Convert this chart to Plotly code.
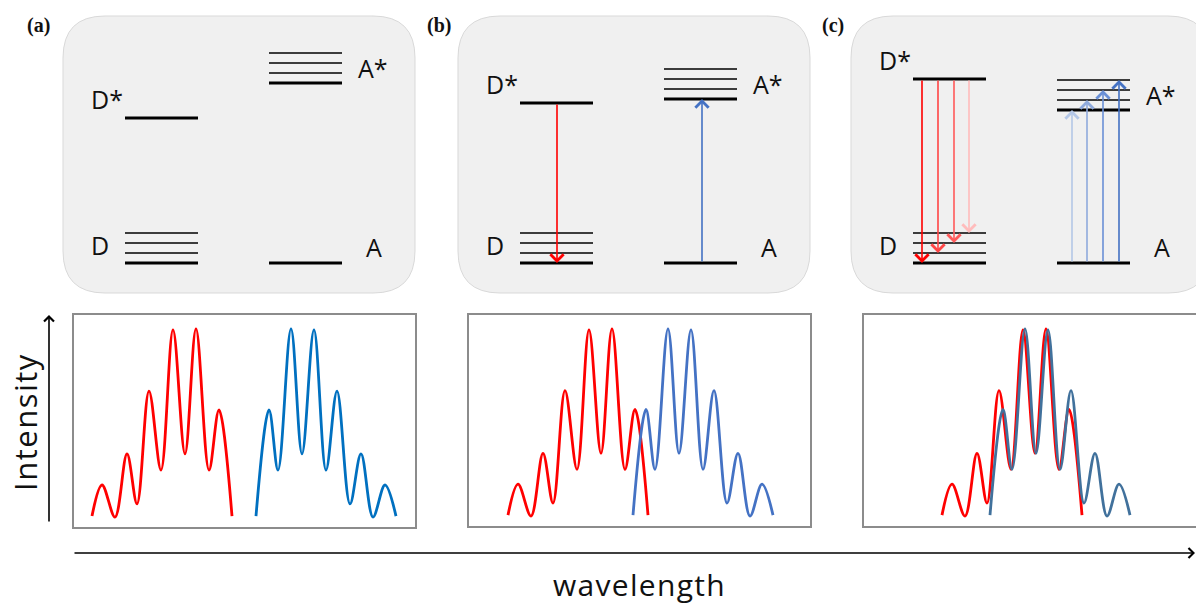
import plotly.graph_objects as go

W, H = 1196, 608

# ---- spectra: extrema of the line shapes (relative wavelength, normalised intensity)
donor_wl = [0, 10, 23, 35, 45, 57, 69, 81, 93, 104, 117, 127, 140]
donor_int = [0.06, 0.216, 0.055, 0.372, 0.121, 0.688, 0.291, 0.995, 0.372, 1.0, 0.291, 0.593, 0.06]
acceptor_wl = [0, 13, 22, 35, 46, 58, 70, 81, 94, 105, 117, 129, 140]
acceptor_int = [0.06, 0.593, 0.291, 1.0, 0.372, 0.995, 0.291, 0.688, 0.121, 0.372, 0.055, 0.216, 0.06]

panel_names = ["(a)", "(b)", "(c)"]
donor_onset = [19, 40, 79]          # start of donor emission in each panel
acceptor_onset = [183, 165, 127]    # start of acceptor absorption in each panel

# ---- energy levels (arbitrary energy units)
vib_levels = [0, 1, 2, 3]
donor_excited = [14.5, 16.0, 18.4]
acceptor_excited_base = [18.0, 16.4, 15.3]
acceptor_ground = [0, 0, 0]

# transitions drawn in panel (c): target vibrational level index
emission_targets = [0, 1, 2, 3]
absorption_targets = [0, 1, 2, 3]

# ---- styling / layout
RED = "#ff0000"
BLUE = ["#0070c0", "#4472c4", "#41719c"]
EMIT_COLORS = ["#ff0000", "#ff4545", "#ff5a5a", "#ffbcbc"]
ABS_COLORS = ["#b4c7e7", "#8faadc", "#6a90d6", "#4472c4"]
FONT = "Open Sans"

top_boxes = [(63, 16, 415, 293), (458, 16, 810, 293), (851, 16, 1210, 293)]
bottom_boxes = [(73, 314, 416, 528), (468, 314, 811, 527), (863, 314, 1210, 527)]
label_pos = [(38, 25), (439, 25), (833, 25)]
D_COL = (62, 135)
A_COL = (206, 279)
E_RANGE = (-3.0, 24.7)
I_RANGE = (0.0, 1.075)
b_arrow_x = (99, 244)
c_emit_x = [71, 87, 103, 118]
c_abs_x = [221, 236, 252, 268]


def fx(px):
    return px / W


def fy(py):
    return 1 - py / H


def rounded_rect(x0, y0, x1, y1, r):
    X = lambda v: f"{fx(v):.5f}"
    Y = lambda v: f"{fy(v):.5f}"
    return " ".join([
        f"M{X(x0 + r)},{Y(y0)}",
        f"L{X(x1 - r)},{Y(y0)}",
        f"Q{X(x1)},{Y(y0)} {X(x1)},{Y(y0 + r)}",
        f"L{X(x1)},{Y(y1 - r)}",
        f"Q{X(x1)},{Y(y1)} {X(x1 - r)},{Y(y1)}",
        f"L{X(x0 + r)},{Y(y1)}",
        f"Q{X(x0)},{Y(y1)} {X(x0)},{Y(y1 - r)}",
        f"L{X(x0)},{Y(y0 + r)}",
        f"Q{X(x0)},{Y(y0)} {X(x0 + r)},{Y(y0)}Z",
    ])


fig = go.Figure()
shapes = []
annotations = []
layout_axes = {}

ax_id = 1
for p in range(3):
    # ---------- energy level diagram ----------
    bx0, by0, bx1, by1 = top_boxes[p]
    shapes.append(dict(type="path", path=rounded_rect(bx0, by0, bx1, by1, 42),
                       xref="paper", yref="paper", fillcolor="#f0f0f0",
                       line=dict(color="#d9d9d9", width=1), layer="below"))
    xa, ya = f"x{ax_id}", f"y{ax_id}"
    sfx = "" if ax_id == 1 else str(ax_id)
    dom_x1 = min(bx1, W)
    layout_axes[f"xaxis{sfx}"] = dict(domain=[fx(bx0), fx(dom_x1)], range=[0, dom_x1 - bx0],
                                      visible=False, anchor=ya)
    layout_axes[f"yaxis{sfx}"] = dict(domain=[fy(by1), fy(by0)], range=list(E_RANGE),
                                      visible=False, anchor=xa)

    def level(x_col, e, width, color="black"):
        fig.add_trace(go.Scatter(x=list(x_col), y=[e, e], mode="lines", xaxis=xa, yaxis=ya,
                                 line=dict(color=color, width=width), hoverinfo="skip",
                                 showlegend=False))

    # donor ground manifold and excited level
    for v in vib_levels:
        level(D_COL, vib_levels[0] + v, 3 if v == 0 else 1.3)
    level(D_COL, donor_excited[p], 3)
    # acceptor ground and excited manifold
    level(A_COL, acceptor_ground[p], 3)
    for v in vib_levels:
        level(A_COL, acceptor_excited_base[p] + v, 3 if v == 0 else 1.3)

    lab_font = dict(family=FONT, size=25, color="#111111")
    a_star_mid = acceptor_excited_base[p] + (vib_levels[0] + vib_levels[-1]) / 2
    for txt, xx, yy in [("D*", 44, donor_excited[p] + 1.9), ("D", 37, 1.8),
                        ("A*", 310, a_star_mid), ("A", 311, 1.6)]:
        annotations.append(dict(text=txt, x=xx, y=yy, xref=xa, yref=ya, showarrow=False,
                                font=lab_font, xanchor="center", yanchor="middle"))

    def transition(xpos, e_from, e_to, color, width=1.6):
        annotations.append(dict(text="", x=xpos, y=e_to, ax=xpos, ay=e_from,
                                xref=xa, yref=ya, axref=xa, ayref=ya,
                                showarrow=True, arrowhead=4, arrowsize=1.6,
                                arrowwidth=width, arrowcolor=color, standoff=0))

    if p == 1:
        transition(b_arrow_x[0], donor_excited[p], vib_levels[0], RED)
        transition(b_arrow_x[1], acceptor_ground[p], acceptor_excited_base[p], "#4472c4")
    if p == 2:
        for k, t in enumerate(emission_targets):
            transition(c_emit_x[k], donor_excited[p], vib_levels[t], EMIT_COLORS[k])
        for k, t in enumerate(absorption_targets):
            transition(c_abs_x[k], acceptor_ground[p],
                       acceptor_excited_base[p] + vib_levels[t], ABS_COLORS[k])

    # panel tag
    annotations.append(dict(text=f"<b>{panel_names[p]}</b>", x=fx(label_pos[p][0]),
                            y=fy(label_pos[p][1]), xref="paper", yref="paper",
                            showarrow=False, xanchor="center", yanchor="middle",
                            font=dict(family="Liberation Serif", size=20, color="#111111")))
    ax_id += 1

    # ---------- spectra ----------
    qx0, qy0, qx1, qy1 = bottom_boxes[p]
    shapes.append(dict(type="rect", x0=fx(qx0), x1=fx(qx1), y0=fy(qy1), y1=fy(qy0),
                       xref="paper", yref="paper", line=dict(color="#8c8c8c", width=2),
                       layer="below"))
    xa, ya = f"x{ax_id}", f"y{ax_id}"
    sfx = str(ax_id)
    dom_x1 = min(qx1, W)
    layout_axes[f"xaxis{sfx}"] = dict(domain=[fx(qx0), fx(dom_x1)], range=[0, dom_x1 - qx0],
                                      visible=False, anchor=ya)
    layout_axes[f"yaxis{sfx}"] = dict(domain=[fy(qy1), fy(qy0)], range=list(I_RANGE),
                                      visible=False, anchor=xa)
    fig.add_trace(go.Scatter(x=[donor_onset[p] + w for w in donor_wl], y=donor_int,
                             mode="lines", line=dict(color=RED, width=2.8, shape="spline"),
                             xaxis=xa, yaxis=ya, showlegend=False, hoverinfo="skip"))
    fig.add_trace(go.Scatter(x=[acceptor_onset[p] + w for w in acceptor_wl], y=acceptor_int,
                             mode="lines", line=dict(color=BLUE[p], width=2.8, shape="spline"),
                             xaxis=xa, yaxis=ya, showlegend=False, hoverinfo="skip"))
    ax_id += 1

# ---- shared axes: intensity (vertical) and wavelength (horizontal)
annotations.append(dict(text="", x=fx(49), y=fy(315), xref="paper", yref="paper",
                        ax=0, ay=523 - 315, axref="pixel", ayref="pixel", showarrow=True,
                        arrowhead=4, arrowsize=1.2, arrowwidth=1.6, arrowcolor="black",
                        standoff=0))
annotations.append(dict(text="", x=fx(1195), y=fy(553), xref="paper", yref="paper",
                        ax=-(1195 - 73), ay=0, axref="pixel", ayref="pixel", showarrow=True,
                        arrowhead=4, arrowsize=1.2, arrowwidth=1.6, arrowcolor="black",
                        standoff=0))
annotations.append(dict(text="<span style='letter-spacing:1.5px'>Intensity</span>",
                        x=fx(25), y=fy(422), xref="paper", yref="paper",
                        showarrow=False, textangle=-90, xanchor="center", yanchor="middle",
                        font=dict(family=FONT, size=31, color="#111111")))
annotations.append(dict(text="<span style='letter-spacing:1.3px'>wavelength</span>",
                        x=fx(639), y=fy(607), xref="paper", yref="paper",
                        showarrow=False, xanchor="center", yanchor="bottom",
                        font=dict(family=FONT, size=30, color="#111111")))

fig.update_layout(width=W, height=H, margin=dict(l=0, r=0, t=0, b=0),
                  paper_bgcolor="white", plot_bgcolor="rgba(0,0,0,0)",
                  shapes=shapes, annotations=annotations, showlegend=False,
                  **layout_axes)

fig.write_html("out.html", config={"displayModeBar": False})
